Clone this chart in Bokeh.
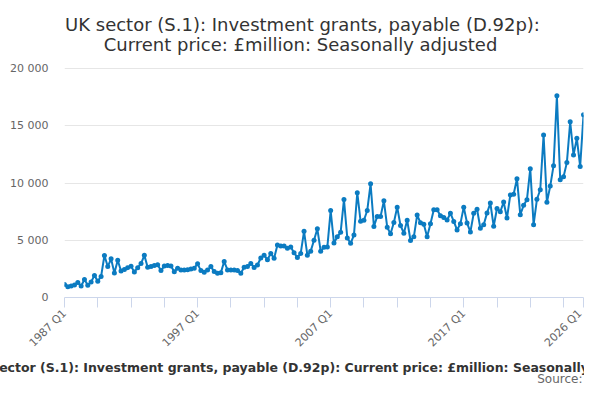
import math
from bokeh.plotting import figure
from bokeh.models import Range1d, FixedTicker, Label, Title, ColumnDataSource
from bokeh.embed import file_html
from bokeh.resources import INLINE

# ---- data -------------------------------------------------------------
start_year = 1987
n_quarters = 157
quarters = [f"{start_year + i // 4} Q{i % 4 + 1}" for i in range(n_quarters)]

values = [
    1130, 930, 1000, 1100, 1300, 1000, 1570, 1070, 1360, 1930,
    1430, 1840, 3670, 2700, 3380, 2130, 3250, 2320, 2440, 2600,
    2730, 2230, 2600, 2960, 3680, 2640, 2700, 2790, 2850, 2350,
    2760, 2800, 2750, 2250, 2560, 2410, 2400, 2420, 2500, 2560,
    2940, 2350, 2210, 2410, 2700, 2260, 2120, 2170, 3140, 2410,
    2410, 2400, 2350, 2120, 2650, 2700, 2980, 2630, 2840, 3450,
    3700, 3300, 3850, 3420, 4580, 4500, 4500, 4300, 4400, 3900,
    3500, 3850, 5780, 3700, 4050, 5000, 6000, 4050, 4380, 4400,
    7590, 4750, 5300, 5690, 8550, 5200, 4730, 5450, 9150, 6650,
    6750, 7600, 9930, 6200, 7080, 7080, 8440, 6140, 5560, 6550,
    7890, 6290, 5620, 6750, 4980, 5300, 7200, 6530, 6400, 5300,
    6450, 7660, 7670, 7140, 6990, 6760, 7360, 6640, 5900, 6450,
    7890, 6500, 5730, 7350, 7710, 6050, 6360, 7370, 8250, 6220,
    7770, 7500, 8340, 6940, 8960, 9020, 10380, 7230, 8050, 8540,
    11250, 6360, 8580, 9410, 14190, 8320, 9730, 11510, 17620, 10280,
    10540, 11780, 15350, 12450, 13900, 11440, 15950,
]

labelled_quarters = ["1987 Q1", "1997 Q1", "2007 Q1", "2017 Q1", "2026 Q1"]
y_ticks = [0, 5000, 10000, 15000, 20000]
y_tick_labels = ["0", "5 000", "10 000", "15 000", "20 000"]

title_lines = [
    "UK sector (S.1): Investment grants, payable (D.92p):",
    "Current price: \u00a3million: Seasonally adjusted",
]
footer_text = ("UK sector (S.1): Investment grants, payable (D.92p): "
               "Current price: \u00a3million: Seasonally adjusted")
source_text = "Source:"

# ---- layout constants (pixels) ---------------------------------------
W, H = 584, 384
FRAME_LEFT = 64
FRAME_RIGHT = 583
FRAME_BOTTOM = 297      # y of the zero line
GRID_TOP = 68           # y of the top gridline (20 000)

# the plot frame reaches the top of the canvas so the title can sit in it
y_top = y_ticks[-1] * FRAME_BOTTOM / (FRAME_BOTTOM - GRID_TOP)

x = list(range(len(values)))
src = ColumnDataSource(dict(x=x, y=values, q=quarters))

p = figure(width=W, height=H, output_backend="svg", toolbar_location=None,
           x_range=Range1d(0, len(values) - 1), y_range=Range1d(0, y_top),
           min_border_left=FRAME_LEFT, min_border_right=W - FRAME_RIGHT,
           min_border_top=0, min_border_bottom=H - FRAME_BOTTOM)
p.outline_line_color = None
p.background_fill_color = "white"
p.border_fill_color = "white"

line_color = "#0b7bc1"
p.line("x", "y", source=src, line_color=line_color, line_width=2)
p.scatter("x", "y", source=src, size=5, fill_color=line_color, line_color=None)

# x axis
x_ticks = list(range(0, len(values), 10)) + [len(values) - 1]
xa = p.xaxis[0]
xa.ticker = FixedTicker(ticks=x_ticks)
xa.major_label_overrides = {t: (quarters[t] if quarters[t] in labelled_quarters else "")
                            for t in x_ticks}
xa.major_label_orientation = math.pi / 4
xa.axis_line_color = "#ccd6eb"
xa.major_tick_line_color = "#ccd6eb"
xa.major_tick_out = 10
xa.major_tick_in = 0
xa.minor_tick_line_color = None
xa.major_label_text_font = "DejaVu Sans"
xa.major_label_text_font_size = "11px"
xa.major_label_text_color = "#666666"
xa.major_label_standoff = 4

# y axis
ya = p.yaxis[0]
ya.ticker = FixedTicker(ticks=y_ticks)
ya.major_label_overrides = dict(zip(y_ticks, y_tick_labels))
ya.axis_line_color = None
ya.major_tick_line_color = None
ya.minor_tick_line_color = None
ya.major_tick_out = 0
ya.major_tick_in = 0
ya.major_label_standoff = 16
ya.major_label_text_font = "DejaVu Sans"
ya.major_label_text_font_size = "11px"
ya.major_label_text_color = "#666666"

p.xgrid.grid_line_color = None
p.ygrid.grid_line_color = "#e6e6e6"
p.ygrid.grid_line_width = 1

# two-line title (screen units, measured from the frame's bottom-left)
for text, cx, base in zip(title_lines, [302, 300], [24.3, 44.3]):
    p.add_layout(Label(x=cx - FRAME_LEFT, y=FRAME_BOTTOM - base,
                       x_units="screen", y_units="screen",
                       text=text, text_align="center", text_baseline="alphabetic",
                       text_font="DejaVu Sans", text_font_size="18px",
                       text_color="#333333"))

# footer lines below the x axis
p.add_layout(Title(text=footer_text, align="left", offset=-33 - FRAME_LEFT,
                   vertical_align="bottom", standoff=0,
                   text_font="DejaVu Sans", text_font_size="12.5px",
                   text_font_style="bold", text_color="#333333"), "below")
p.add_layout(Title(text=source_text, align="right", offset=FRAME_RIGHT - 582,
                   vertical_align="top", standoff=-6,
                   text_font="DejaVu Sans", text_font_size="12px",
                   text_font_style="normal", text_color="#666666"), "below")

open("out.html", "w").write(file_html(p, INLINE))
